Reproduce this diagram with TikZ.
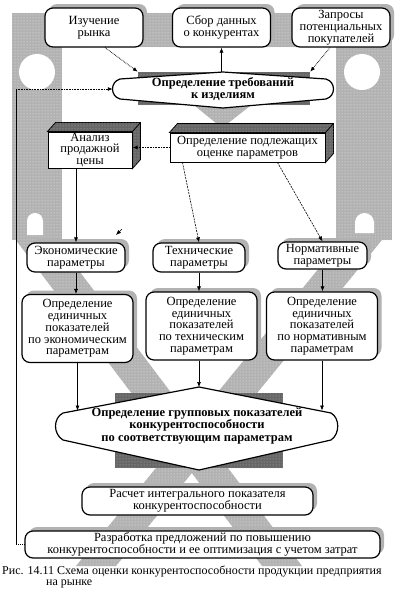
\documentclass[tikz,border=0pt]{standalone}
\usepackage{fontspec}
\setmainfont{Liberation Serif}
\usetikzlibrary{shadows,patterns,arrows.meta}
\definecolor{bg}{rgb}{.70,.70,.70}
\definecolor{dk}{rgb}{.40,.40,.40}

\begin{document}
\begin{tikzpicture}
  [x=1pt, y=-1pt, font=\fontsize{12.5}{11.8}\selectfont,
   bgfill/.style={fill=bg, postaction={pattern=dots, pattern color=white!75!bg}},
   dkfill/.style={fill=dk, postaction={pattern=dots, pattern color=bg}},
   box/.style={draw, line width=1.2pt, rounded corners=8pt, fill=white,
     align=center, inner sep=0pt,
     general shadow={shadow xshift=4pt, shadow yshift=4pt, fill=black!30}},
   cube/.style={draw, line width=1pt, fill=white, align=center, inner sep=0pt},
   hexa/.style={draw, line width=1.2pt, fill=white},
   link/.style={-{Latex[length=5pt,width=4pt]}, line width=.6pt},
   dot/.style={link, densely dotted, line width=.9pt},
   fine/.style={link, dash pattern=on 2pt off 1pt}]
  \useasboundingbox (0,0) rectangle (417,603);
  \fill[white] (0,0) rectangle (417,603);
  % background figure
  \path[bgfill] (12,13) rectangle (392,47);
  \path[bgfill] (12,13) rectangle (62,240);
  \path[bgfill] (336,13) rectangle (392,240);
  \path[bgfill] (12,235) -- (52,235) -- (302,566) -- (262,566) -- cycle;
  \path[bgfill] (346,235) -- (386,235) -- (116,566) -- (76,566) -- cycle;
  \fill[white] (37,72) circle[radius=18];
  \fill[white] (362,72) circle[radius=18];
  \fill[white] (27,235) -- (27,221) arc[start angle=180, end angle=360, radius=8] -- (43,235) -- cycle;
  \fill[white] (355,233) -- (355,222.5) arc[start angle=180, end angle=360, radius=9.5] -- (374,233) -- cycle;
  \node[dkfill, minimum width=172pt, minimum height=33pt] (trebsh) at (224,88.5) {};
  \node[dkfill, minimum width=168pt, minimum height=75pt] (grpsh) at (199,430.5) {};
  \path[bgfill] (195,106) -- (250,106) -- (222,128) -- cycle;
  % top row
  \foreach \nm/\x/\txt in {izuch/94/{Изучение\\рынка},
      sbor/221.5/{Сбор данных\\о конкурентах},
      zapr/341/{Запросы\\потенциальных\\покупателей}}{
    \node[box, minimum width=98pt, minimum height=39pt] (\nm) at (\x,27.5) {\txt};}
  \draw[hexa] (223,72) -- (326,79) .. controls (336,82) and (336,96) .. (326,99)
    -- (223,108) -- (120,99) .. controls (110,96) and (110,82) .. (120,79) -- cycle;
  \node[font=\fontsize{12.5}{12}\selectfont\bfseries, align=center, inner sep=0pt,
    minimum width=220pt, minimum height=36pt] (treb) at (223,89) {Определение требований\\к изделиям};
  % cubes
  \node[cube, minimum width=84pt, minimum height=36pt] (anal) at (90,150) {Анализ\\продажной\\цены};
  \node[cube, minimum width=155pt, minimum height=29pt] (podl) at (247.5,147.5)
    {Определение подлежащих\\оценке параметров};
  \foreach \nm in {anal,podl}{
    \path[dkfill, draw, line width=.8pt] (\nm.north west) -- ([shift={(8,-9)}]\nm.north west)
      -- ([shift={(8,-9)}]\nm.north east) -- ([shift={(8,-9)}]\nm.south east)
      -- (\nm.south east) -- (\nm.north east) -- cycle;
    \draw[line width=.8pt] (\nm.north east) -- ++(8,-9);}
  % parameters
  \foreach \nm/\x/\y/\w/\h/\txt in {econ/76/257.5/98/29/{Экономические\\параметры},
      tech/199/257.5/92/29/{Технические\\параметры},
      norm/322.5/255.5/89/27/{Нормативные\\параметры}}{
    \node[box, minimum width=\w pt, minimum height=\h pt] (\nm) at (\x,\y) {\txt};}
  \foreach \nm/\x/\y/\txt in {eecon/77.5/328.5/{экономическим},
      etech/201.5/326/{техническим}, enorm/322/326/{нормативным}}{
    \node[box, minimum width=111pt, minimum height=68pt] (\nm) at (\x,\y)
      {Определение\\единичных\\показателей\\по \txt\\параметрам};}
  % group indicators
  \draw[hexa] (199,387) -- (331,413) .. controls (340,418) and (340,434) .. (331,440)
    -- (199,470) -- (63,440) .. controls (53,434) and (53,418) .. (63,413) -- cycle;
  \node[font=\fontsize{12.5}{12.5}\selectfont\bfseries, align=center, inner sep=0pt,
    minimum width=283pt, minimum height=83pt] (grp) at (197,426)
    {Определение групповых показателей\\конкурентоспособности\\по соответствующим параметрам};
  \coordinate (grpT) at (199,387);
  \coordinate (grpA) at (77.5,410.5);
  \coordinate (grpB) at (322,410.5);
  \node[box, minimum width=231pt, minimum height=28pt] (rasch) at (197.5,501)
    {Расчет интегрального показателя\\конкурентоспособности};
  \node[box, minimum width=355pt, minimum height=27pt] (razr) at (202.5,544.5)
    {Разработка предложений по повышению\\конкурентоспособности и ее оптимизация с учетом затрат};
  % connectors
  \draw[dot] ([xshift=11pt]izuch.south) -- (trebsh.north west);
  \draw[dot] ([xshift=-11pt]zapr.south) -- (trebsh.north east);
  \draw[link] (trebsh.north -| sbor.south) -- (sbor.south);
  \draw[dot] (podl.west) -- (podl.west -| anal.east);
  \draw[link] (anal.south -| econ.north) -- (econ.north);
  \draw[fine] ([xshift=13pt]podl.south west) -- (tech.north);
  \draw[fine] ([xshift=-48pt]podl.south east) -- (norm.north);
  \coordinate (stub) at (122,229);
  \draw[link] (stub) -- ++(-6,6);
  \draw[link] (econ.south) -- (econ.south |- eecon.north);
  \draw[link] (tech.south) -- (tech.south |- etech.north);
  \draw[link] (norm.south) -- (norm.south |- enorm.north);
  \draw[link] (eecon.south) -- (grpA);
  \draw[link] (etech.south -| grpT) -- (grpT);
  \draw[link] (enorm.south) -- (grpB);
  \coordinate (fbB) at (16,544.5);
  \coordinate (fbT) at (16,89);
  \draw[densely dotted, line width=.9pt] (razr.west) -- (fbB);
  \draw[line width=.7pt] (fbB) -- (fbT);
  \draw[dot] (fbT) -- (treb.west);
  % caption
  \node[anchor=north west, align=left, inner sep=0pt, font=\fontsize{12}{11}\selectfont]
    (capt) at (2,566) {Рис. 14.11 Схема оценки конкурентоспособности продукции предприятия\\
    \hspace*{44pt}на рынке};
\end{tikzpicture}
\end{document}
